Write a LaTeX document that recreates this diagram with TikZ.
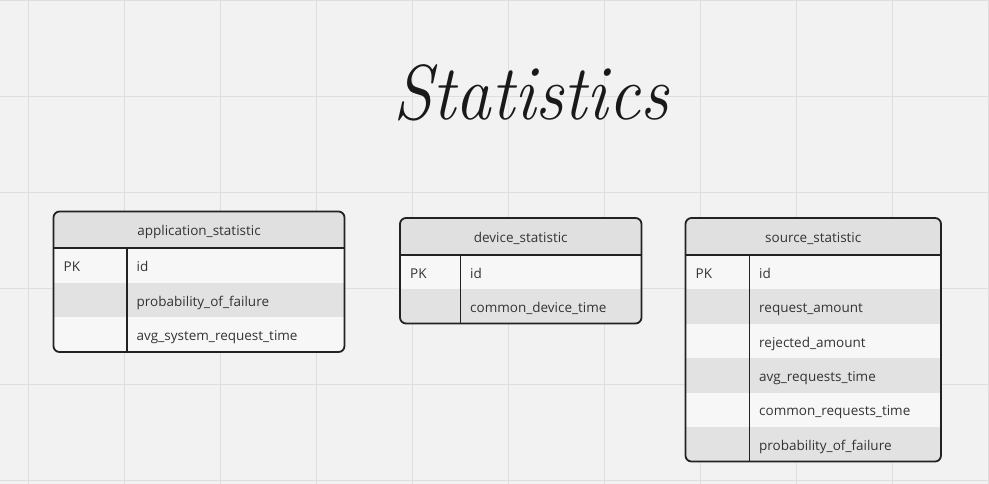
\documentclass[tikz,border=0pt]{standalone}
\usepackage{fontspec}
\newfontfamily\tabfont{Open Sans}
\definecolor{bgc}{HTML}{F2F2F2}
\definecolor{gridc}{HTML}{DEDEDE}
\definecolor{hdrc}{HTML}{E0E0E0}
\definecolor{rowlight}{HTML}{F7F7F7}
\definecolor{rowdark}{HTML}{E2E2E2}
\definecolor{edgec}{HTML}{222222}
\definecolor{txtc}{HTML}{333333}
\tikzset{
  gridline/.style={draw=gridc, line width=0.9pt},
  tabedge/.style={draw=edgec, line width=1.8pt},
  cell/.style={inner sep=0pt, text=txtc, font=\tabfont\fontsize{13.5}{16}\selectfont},
  titletext/.style={inner sep=0pt, text=black!90, xscale=0.91, font=\fontsize{78}{86}\selectfont\itshape},
}
% #1 name, #2 left, #3 right, #4 top, #5 header bottom, #6 row height, #7 divider x, #8 title, #9 fields
\newcommand\erdtable[9]{%
  \def\nr{0}%
  \foreach \f in {#9}{\pgfmathtruncatemacro\tmp{\nr+1}\global\let\nr\tmp}%
  \pgfmathsetmacro\bot{#5+\nr*#6}%
  \begin{scope}
    \clip[rounded corners=6pt] (#2,#4) rectangle (#3,\bot);
    \fill[hdrc] (#2,#4) rectangle (#3,#5);
    \foreach \f [count=\i] in {#9}{%
      \pgfmathsetmacro\ya{#5+(\i-1)*#6}%
      \pgfmathsetmacro\yb{#5+\i*#6}%
      \ifodd\i \fill[rowlight] (#2,\ya) rectangle (#3,\yb);
      \else \fill[rowdark] (#2,\ya) rectangle (#3,\yb); \fi
    }
  \end{scope}
  \draw[tabedge, rounded corners=6pt] (#2,#4) rectangle (#3,\bot);
  \draw[tabedge] (#2,#5) -- (#3,#5);
  \draw[tabedge] (#7,#5) -- (#7,\bot);
  \pgfmathsetmacro\hx{(#2+#3)/2}%
  \pgfmathsetmacro\hy{(#4+#5)/2+6}%
  \node[cell, anchor=base] (#1-title) at (\hx,\hy) {#8};
  \foreach \f [count=\i] in {#9}{%
    \pgfmathsetmacro\ym{#5+(\i-0.5)*#6+6}%
    \node[cell, anchor=base west] (#1-f\i) at (#7+9.5,\ym) {\f};
  }
  \pgfmathsetmacro\ym{#5+0.5*#6+6}%
  \node[cell, anchor=base west] (#1-pk) at (#2+10,\ym) {PK};
}
\begin{document}
\begin{tikzpicture}[x=1pt,y=-1pt]
\useasboundingbox (0,0) rectangle (989,484);
\fill[bgc] (0,0) rectangle (989,484);
\foreach \x in {28,124,...,988} \draw[gridline] (\x,0) -- (\x,484);
\foreach \y in {0.5,96,192,288,384,480} \draw[gridline] (0,\y) -- (989,\y);

\node[titletext, anchor=base] (title) at (531,120) {Statistics};

\erdtable{app}{53.5}{344.5}{211.5}{248}{34.67}{127}{application\_statistic}%
  {id, probability\_of\_failure, avg\_system\_request\_time}
\erdtable{dev}{400}{641.5}{218}{255}{34.25}{460.5}{device\_statistic}%
  {id, common\_device\_time}
\erdtable{src}{685.5}{941}{218}{255}{34.42}{749.5}{source\_statistic}%
  {id, request\_amount, rejected\_amount, avg\_requests\_time, common\_requests\_time, probability\_of\_failure}
\end{tikzpicture}
\end{document}
